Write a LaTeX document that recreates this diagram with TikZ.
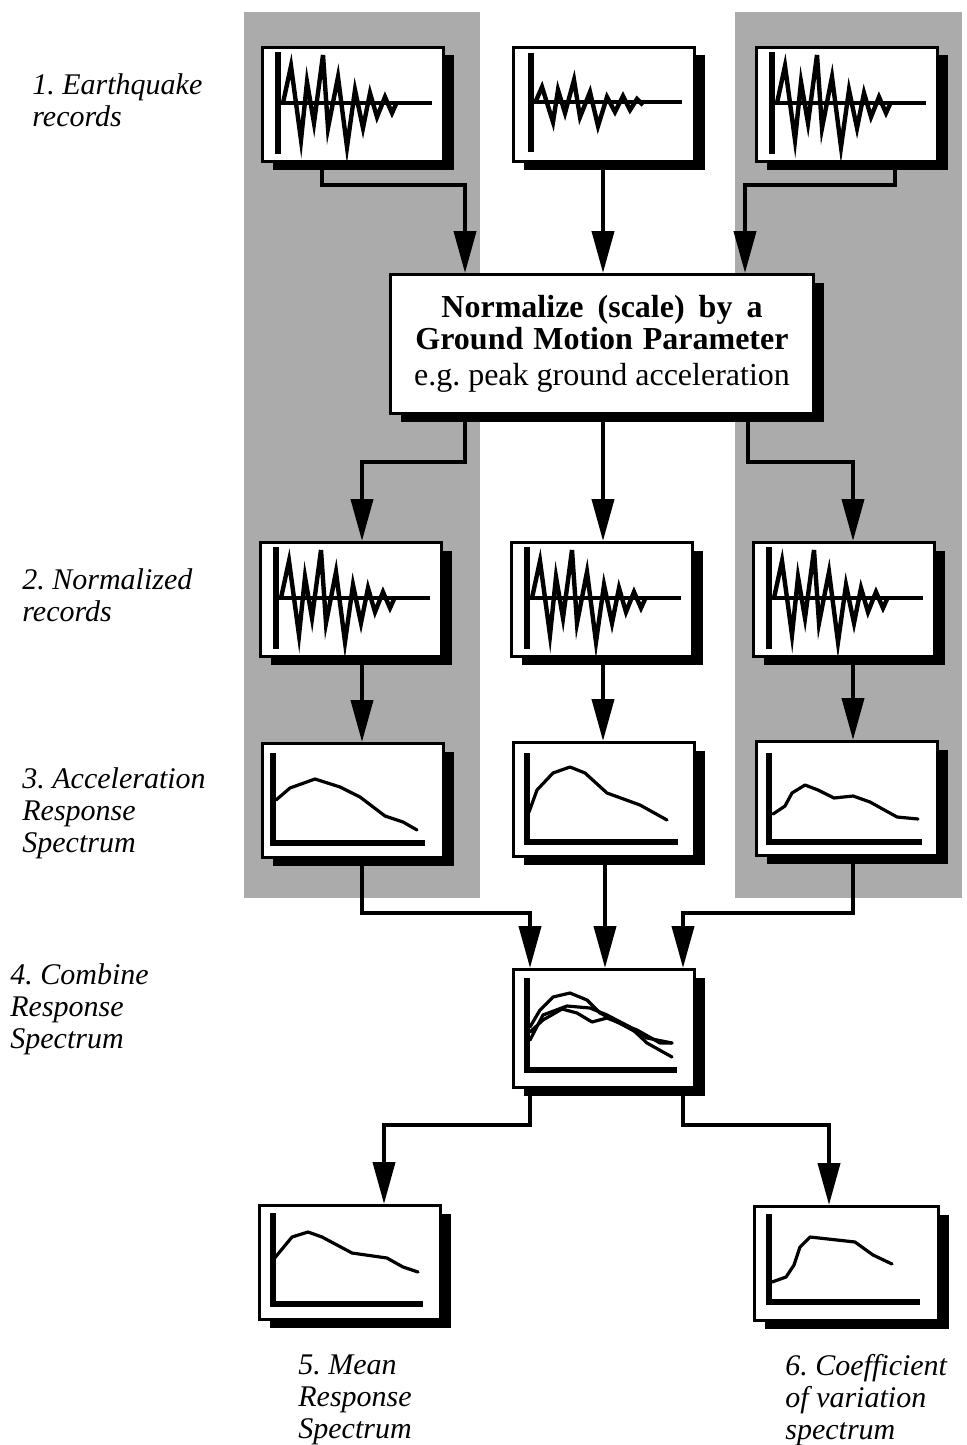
\documentclass[tikz,border=0pt]{standalone}
\usepackage{fontspec}
\setmainfont{Liberation Serif}
\usetikzlibrary{arrows.meta,shadows}
\begin{document}
\frenchspacing
\begin{tikzpicture}[x=0.5pt,y=-0.5pt,
  plotbox/.style={draw=black, line width=1.5pt, fill=white, minimum width=90.5pt, minimum height=57pt, inner sep=0pt, anchor=north west, general shadow={fill=black, shadow xshift=5pt, shadow yshift=-4pt}},
  conn/.style={line width=2pt, -{Triangle[length=21pt,width=11pt]}},
  axisline/.style={line width=2.6pt},
  baseline/.style={line width=2.2pt},
  curve/.style={line width=1.6pt, line join=round, line cap=round},
  wave/.style={line width=2.2pt, line join=miter},
  lbl/.style={anchor=north west, align=left, inner sep=0pt, font=\fontsize{15}{16}\selectfont\itshape},
  shade/.style={fill=black!33, draw=none},
  bigwave/.pic={
    \draw[axisline] (17,6) -- (17,108);
    \draw[baseline] (17,57) -- (171,57);
    \draw[wave] (22,57) -- (30,20) -- (40,94) -- (46,36) -- (53,77) -- (62,9) -- (67,82) -- (77,31) -- (86,101) -- (94,44) -- (102,82) -- (109,47) -- (116,71) -- (124,51) -- (131,67) -- (136,56);
  },
  smallwave/.pic={
    \draw[axisline] (19,7) -- (19,106);
    \draw[baseline] (19,56) -- (170,56);
    \draw[wave] (23,57) -- (30,41) -- (41,76) -- (46,44) -- (53,67) -- (62,34) -- (68,71) -- (78,46) -- (86,80) -- (95,51) -- (103,66) -- (111,50) -- (118,64) -- (125,53) -- (131,59);
  }
]
\useasboundingbox (0,0) rectangle (966,1445);
\fill[shade] (244,12) rectangle (480,898);
\fill[shade] (735,12) rectangle (962,898);

% boxes
\node[plotbox] (L1) at (261,46) {};
\node[plotbox] (M1) at (512,46) {};
\node[plotbox] (R1) at (755,46) {};
\node[plotbox, minimum width=211.5pt, minimum height=69.5pt, font=\fontsize{16}{16}\selectfont, align=center] (N) at (389,273)
  {{\bfseries\spaceskip=7pt plus 1pt Normalize (scale) by a}\\[0pt]{\bfseries\spaceskip=5pt plus 1pt Ground Motion Parameter}\\[2pt]e.g. peak ground acceleration};
\node[plotbox] (L2) at (259,541) {};
\node[plotbox] (M2) at (510,541) {};
\node[plotbox] (R2) at (752,541) {};
\node[plotbox] (L3) at (261,742) {};
\node[plotbox] (M3) at (512,741) {};
\node[plotbox] (R3) at (755,740) {};
\node[plotbox, minimum height=59pt] (C) at (512,968) {};
\node[plotbox] (BL) at (258,1204) {};
\node[plotbox, minimum width=92pt] (BR) at (753,1205) {};

% waveforms
\pic at (L1.north west) {bigwave};
\pic at (M1.north west) {smallwave};
\pic at (R1.north west) {bigwave};
\pic at (L2.north west) {bigwave};
\pic at (M2.north west) {bigwave};
\pic at (R2.north west) {bigwave};

% spectra
\begin{scope}[shift={(L3.north west)}]
  \draw[axisline] (12,11) -- (12,101) -- (164,101);
  \draw[curve] (15,58) -- (29,46) -- (54,37) -- (79,45) -- (99,55) -- (124,74) -- (142,80) -- (156,88);
\end{scope}
\begin{scope}[shift={(M3.north west)}]
  \draw[axisline] (15,12) -- (15,101) -- (166,101);
  \draw[curve] (17,71) -- (25,49) -- (41,32) -- (58,26) -- (73,32) -- (95,52) -- (128,64) -- (155,79);
\end{scope}
\begin{scope}[shift={(R3.north west)}]
  \draw[axisline] (14,13) -- (14,102) -- (167,102);
  \draw[curve] (18,74) -- (30,66) -- (37,53) -- (50,45) -- (63,50) -- (79,58) -- (98,56) -- (115,62) -- (142,77) -- (163,79);
\end{scope}
\begin{scope}[shift={(C.north west)}]
  \draw[axisline] (15,10) -- (15,102) -- (165,102);
  \draw[curve] (18,59) -- (28,42) -- (41,29) -- (58,25) -- (75,32) -- (88,45) -- (111,57) -- (135,70) -- (160,75);
  \draw[curve] (18,72) -- (31,47) -- (55,38) -- (78,40) -- (95,47) -- (118,59) -- (135,75) -- (160,89);
  \draw[curve] (18,64) -- (31,52) -- (50,41) -- (65,45) -- (80,54) -- (95,50) -- (125,62) -- (148,75) -- (160,75);
\end{scope}
\begin{scope}[shift={(BL.north west)}]
  \draw[axisline] (15,9) -- (15,100) -- (165,100);
  \draw[curve] (15,56) -- (34,33) -- (50,28) -- (64,33) -- (94,49) -- (129,54) -- (145,63) -- (160,68);
\end{scope}
\begin{scope}[shift={(BR.north west)}]
  \draw[axisline] (16,9) -- (16,97) -- (167,97);
  \draw[curve] (19,77) -- (33,72) -- (41,60) -- (47,42) -- (57,32) -- (102,37) -- (120,50) -- (139,59);
\end{scope}

% connector bend points
\coordinate (cm) at (603,0);
\coordinate (cm2) at (605,0);
\coordinate (j1) at (322,185);
\coordinate (j2) at (465,185);
\coordinate (j3) at (895,185);
\coordinate (j4) at (745,185);
\coordinate (j5) at (465,462);
\coordinate (j6) at (362,462);
\coordinate (j7) at (748,462);
\coordinate (j8) at (853,462);
\coordinate (j9) at (362,913);
\coordinate (j10) at (530,913);
\coordinate (j11) at (853,913);
\coordinate (j12) at (683,913);
\coordinate (j13) at (530,1125);
\coordinate (j14) at (384,1125);
\coordinate (j15) at (683,1125);
\coordinate (j16) at (829,1125);

% connectors
\draw[conn] (L1.south -| j1) -- (j1) -- (j2) -- (N.north -| j2);
\draw[conn] (M1.south -| cm) -- (N.north -| cm);
\draw[conn] (R1.south -| j3) -- (j3) -- (j4) -- (N.north -| j4);
\draw[conn] (N.south -| j5) -- (j5) -- (j6) -- (L2.north -| j6);
\draw[conn] (N.south -| cm) -- (M2.north -| cm);
\draw[conn] (N.south -| j7) -- (j7) -- (j8) -- (R2.north -| j8);
\draw[conn] (L2.south -| j6) -- (L3.north -| j6);
\draw[conn] (M2.south -| cm) -- (M3.north -| cm);
\draw[conn] (R2.south -| j8) -- (R3.north -| j8);
\draw[conn] (L3.south -| j9) -- (j9) -- (j10) -- (C.north -| j10);
\draw[conn] (M3.south -| cm2) -- (C.north -| cm2);
\draw[conn] (R3.south -| j11) -- (j11) -- (j12) -- (C.north -| j12);
\draw[conn] (C.south -| j13) -- (j13) -- (j14) -- (BL.north -| j14);
\draw[conn] (C.south -| j15) -- (j15) -- (j16) -- (BR.north -| j16);

% labels
\node[lbl] (t1) at (32,73) {1. Earthquake\\records};
\node[lbl] (t2) at (22,568) {2. Normalized\\records};
\node[lbl] (t3) at (22,767) {3. Acceleration\\Response\\Spectrum};
\node[lbl] (t4) at (10,963) {4. Combine\\Response\\Spectrum};
\node[lbl] (t5) at (298,1354) {5. Mean\\Response\\Spectrum};
\node[lbl] (t6) at (785,1354) {6. Coefficient\\of variation\\spectrum};
\end{tikzpicture}
\end{document}
